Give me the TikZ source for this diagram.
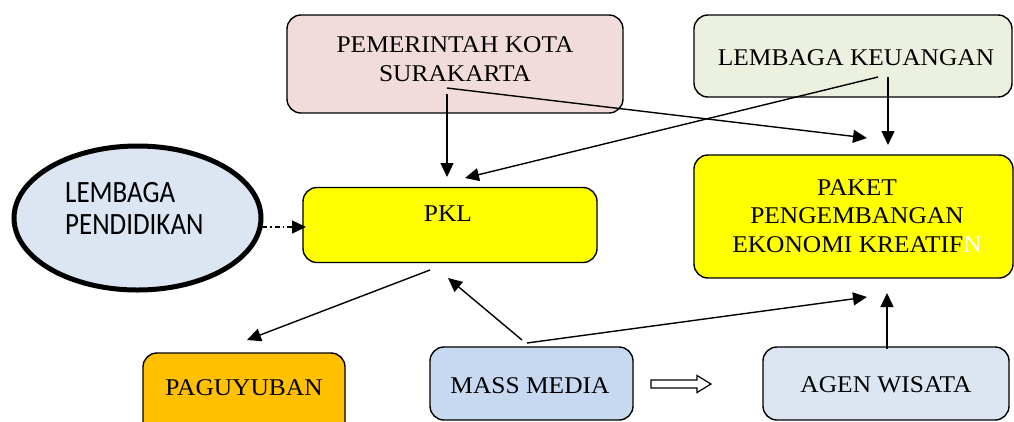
\documentclass[tikz,border=0pt]{standalone}
\usepackage{fontspec}
\setmainfont{Liberation Serif}[FakeStretch=1.06]
\newfontfamily\calib{Carlito}
\usepackage{graphicx}
\usetikzlibrary{arrows.meta,shapes.geometric}
\definecolor{pemfill}{HTML}{F2DCDB}
\definecolor{lkfill}{HTML}{EBF1DE}
\definecolor{yel}{HTML}{FFFF00}
\definecolor{ellfill}{HTML}{DCE6F2}
\definecolor{pagfill}{HTML}{FFC000}
\definecolor{mmfill}{HTML}{C6D9F1}
\definecolor{agfill}{HTML}{DCE6F2}
\begin{document}
\begin{tikzpicture}[x=1pt,y=-1pt,
  box/.style={draw=black, line width=1.4pt, rounded corners=14pt, inner sep=0pt},
  txt/.style={font=\fontsize{24}{28.5}\selectfont, align=center, inner sep=0pt, anchor=base},
  arr/.style={line width=1.4pt, -{Triangle[length=14pt,width=13pt]}},
  dd/.style={line width=1.4pt, dash pattern=on 5pt off 3pt on 1.5pt off 3pt, -{Triangle[length=14pt,width=13pt]}}]
\useasboundingbox (0,0) rectangle (1014,421);
% boxes
\node[box, fill=pemfill, minimum width=336pt, minimum height=98pt] (pem) at (455,64) {};
\node[box, fill=lkfill, minimum width=318pt, minimum height=82pt] (lk) at (853,56) {};
\node[box, fill=yel, minimum width=294pt, minimum height=75pt] (pkl) at (450,225) {};
\node[box, fill=yel, minimum width=319pt, minimum height=123pt] (pak) at (853.5,216.5) {};
\node[box, fill=pagfill, minimum width=202pt, minimum height=86pt] (pag) at (244,396) {};
\node[box, fill=mmfill, minimum width=203pt, minimum height=73pt] (mm) at (531.5,383.5) {};
\node[box, fill=agfill, minimum width=246pt, minimum height=73pt] (ag) at (886,383.5) {};
\node[draw=black, line width=5pt, fill=ellfill, ellipse, minimum width=247pt, minimum height=144pt, inner sep=0pt] (ell) at (137.5,218) {};
% texts
\node[txt] (pemt) at (455,81) {PEMERINTAH KOTA\\SURAKARTA};
\node[txt] (lkt) at (856,65) {LEMBAGA KEUANGAN};
\node[txt] (pklt) at (448,221) {PKL};
\node[txt] (pakt) at (857,252) {PAKET\\PENGEMBANGAN\\EKONOMI KREATIF\textcolor{white}{N}};
\node[txt] (pagt) at (244,395) {PAGUYUBAN};
\node[txt] (mmt) at (530,393) {MASS MEDIA};
\node[txt] (agt) at (886,392) {AGEN WISATA};
\node[inner sep=0pt, anchor=base west, align=left, font=\calib\fontsize{31}{32}\selectfont] (ellt) at (65,234) {\scalebox{0.87}[1]{LEMBAGA}\\\scalebox{0.87}[1]{PENDIDIKAN}};
% connector end points
\coordinate (a1s) at (447,94);   \coordinate (a1e) at (447,177);
\coordinate (a2s) at (447,88);   \coordinate (a2e) at (867,138);
\coordinate (a3s) at (878,77);   \coordinate (a3e) at (465,178);
\coordinate (a4s) at (888,77);   \coordinate (a4e) at (888,145);
\coordinate (a5s) at (262,227);  \coordinate (a5e) at (306,227);
\coordinate (a6s) at (430,270);  \coordinate (a6e) at (247,340);
\coordinate (a7s) at (522,340);  \coordinate (a7e) at (448,278);
\coordinate (a8s) at (527,343);  \coordinate (a8e) at (867,297);
\coordinate (a9s) at (887,349);  \coordinate (a9e) at (887,293);
% connectors
\draw[arr] (a1s) -- (a1e);
\draw[arr] (a2s) -- (a2e);
\draw[arr] (a3s) -- (a3e);
\draw[arr] (a4s) -- (a4e);
\draw[dd] (a5s) -- (a5e);
\draw[arr] (a6s) -- (a6e);
\draw[arr] (a7s) -- (a7e);
\draw[arr] (a8s) -- (a8e);
\draw[arr] (a9s) -- (a9e);
% hollow block arrow
\draw[line width=1.2pt, fill=white, line join=miter] (651,380) -- (697,380) -- (697,375.5) -- (711,384) -- (697,392.5) -- (697,388) -- (651,388) -- cycle;
\end{tikzpicture}
\end{document}
